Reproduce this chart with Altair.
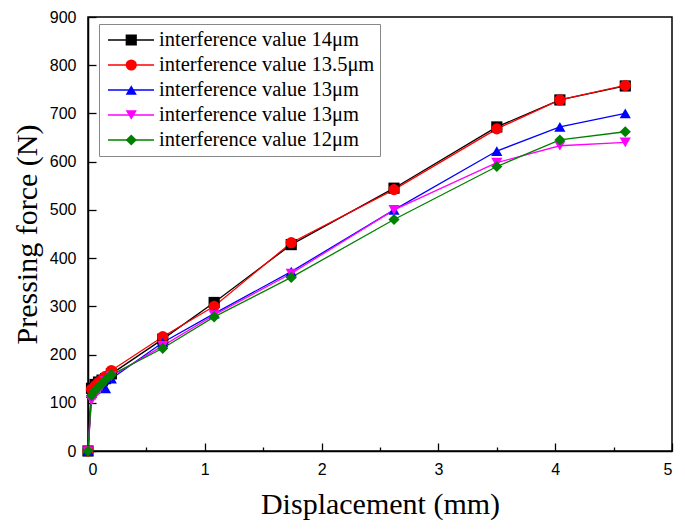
import altair as alt
import pandas as pd

# series keys (unique) and their legend labels
series_keys = ["14", "13.5", "13a", "13b", "12"]
point_keys = ["p14", "p13.5", "p13a", "p13b", "p12"]
series_colors = ["#000000", "#ff0000", "#0000ff", "#ff00ff", "#008000"]
series_shapes = ["square", "circle", "triangle-up", "triangle-down", "diamond"]

disp = [0, 0.03, 0.06, 0.09, 0.12, 0.15, 0.2, 0.64, 1.08, 1.74, 2.62, 3.5, 4.04, 4.6]
force_14 = [0, 130, 138, 143, 147, 150, 160, 232, 308, 428, 545, 672, 728, 757]
force_135 = [0, 128, 135, 142, 148, 155, 167, 237, 300, 432, 542, 668, 728, 758]
force_13a = [0, 120, 128, 135, 140, 130, 150, 225, 285, 372, 500, 622, 672, 700]
force_13b = [0, 105, 115, 125, 135, 145, 155, 218, 282, 368, 500, 598, 633, 640]
force_12 = [0, 115, 125, 133, 140, 148, 158, 213, 278, 360, 480, 590, 645, 662]

forces = [force_14, force_135, force_13a, force_13b, force_12]
rows = []
for k, pk, f in zip(series_keys, point_keys, forces):
    for i, (x, y) in enumerate(zip(disp, f)):
        rows.append({"series": k, "pseries": pk, "x": x, "y": y, "order": i})
df = pd.DataFrame(rows)

label_expr = "'interference value ' + replace(replace(datum.label, 'a', ''), 'b', '') + 'μm'"

x_ticks = [0, 0.5, 1, 1.5, 2, 2.5, 3, 3.5, 4, 4.5, 5]
y_ticks = list(range(0, 901, 50))

x_enc = alt.X("x:Q", scale=alt.Scale(domain=[0, 5], nice=False),
              axis=alt.Axis(title="Displacement (mm)",
                            values=x_ticks,
                            labelExpr="datum.value % 1 === 0 ? format(datum.value, 'd') : ''",
                            tickSize={"expr": "-8"},
                            tickDash={"condition": {"test": "datum.value % 1 !== 0", "value": [4, 40]}, "value": [8, 0]},
                            labelPadding=18, titlePadding=12))
y_enc = alt.Y("y:Q", scale=alt.Scale(domain=[0, 900], nice=False),
              axis=alt.Axis(title="Pressing force (N)",
                            values=y_ticks,
                            labelExpr="datum.value % 100 === 0 ? format(datum.value, 'd') : ''",
                            tickSize={"expr": "-8"},
                            tickDash={"condition": {"test": "datum.value % 100 !== 0", "value": [4, 40]}, "value": [8, 0]},
                            labelPadding=20, titlePadding=7))

lines = alt.Chart(df).mark_line(strokeWidth=1.3).encode(
    x=x_enc, y=y_enc,
    stroke=alt.Stroke("series:N",
                      scale=alt.Scale(domain=series_keys, range=series_colors),
                      legend=alt.Legend(title=None, orient="none", legendX=11, legendY=7,
                                        symbolType="stroke", symbolSize=2116, symbolStrokeWidth=1.3,
                                        symbolOffset=3,
                                        clipHeight=22, rowPadding=3, padding=5,
                                        labelExpr=label_expr, labelFont="Liberation Serif",
                                        labelFontSize=20.5, labelOffset=4, labelLimit=400,
                                        labelColor="black", strokeColor="#888888")),
    order="order:Q",
)

points = alt.Chart(df).mark_point(filled=True, size=125, opacity=1).encode(
    x="x:Q", y="y:Q",
    fill=alt.Fill("pseries:N", scale=alt.Scale(domain=point_keys, range=series_colors),
                  legend=alt.Legend(title=None, orient="none", legendX=11, legendY=7,
                                    symbolSize=125, symbolOffset=17, symbolStrokeWidth=0,
                                    clipHeight=22, rowPadding=3, padding=5,
                                    labelExpr="''", labelFontSize=20.5)),
    shape=alt.Shape("pseries:N", scale=alt.Scale(domain=point_keys, range=series_shapes),
                    legend=alt.Legend(title=None, orient="none", legendX=11, legendY=7,
                                      symbolSize=125, symbolOffset=17, symbolStrokeWidth=0,
                                      clipHeight=22, rowPadding=3, padding=5,
                                      labelExpr="''", labelFontSize=20.5)),
)

chart = alt.layer(lines, points).properties(
    width=584, height=434,
    autosize=alt.AutoSizeParams(type="none"),
    padding={"left": 80, "top": 9, "right": 5, "bottom": 78},
).configure_view(stroke="black", strokeWidth=1.5).configure_axis(
    grid=False, domainColor="black", domainWidth=1.5, tickColor="black", tickWidth=1.3,
    labelFont="Liberation Sans", labelFontSize=16, labelColor="black",
    titleFont="Liberation Serif", titleFontSize=30, titleFontWeight="normal", titleColor="black",
)

chart.save("out.html", embed_options={"renderer": "svg", "actions": False})
